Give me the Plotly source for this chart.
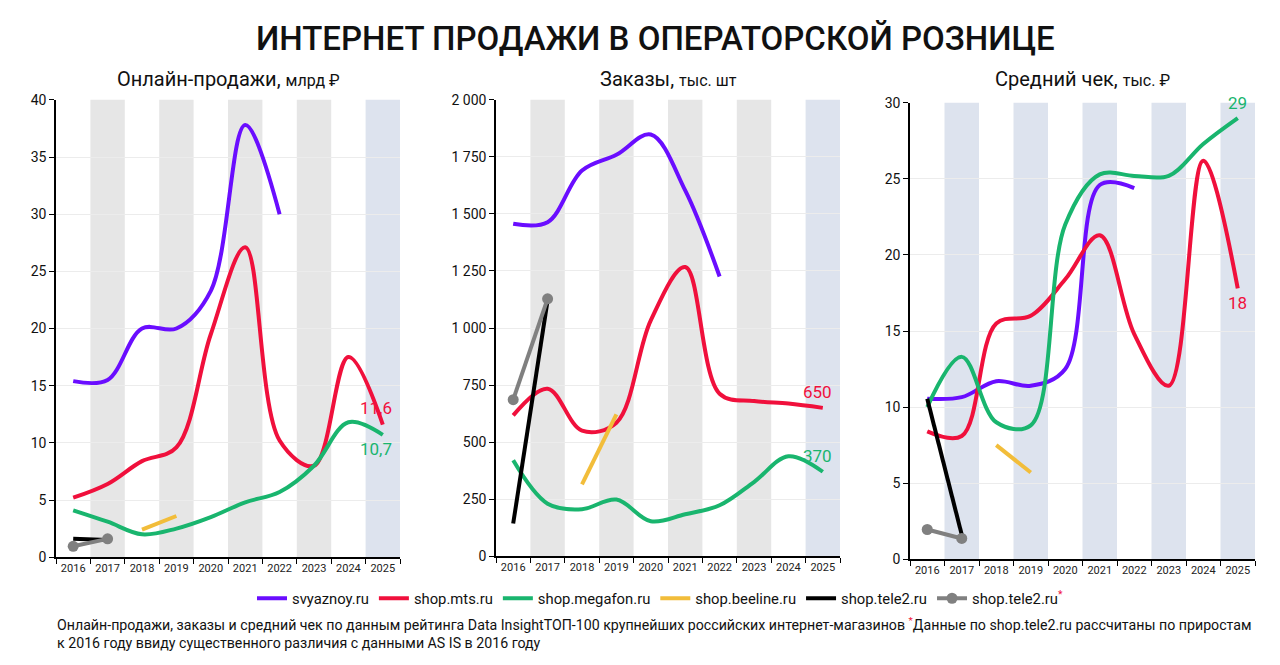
import plotly.graph_objects as go

years = ['2016', '2017', '2018', '2019', '2020', '2021', '2022', '2023', '2024', '2025']

# Онлайн-продажи, млрд ₽
svyaznoy_sales = [15.4, 15.5, 20.0, 20.0, 23.3, 37.8, 30.0]
mts_sales = [5.2, 6.4, 8.4, 9.6, 19.5, 27.1, 10.2, 8.0, 17.5, 11.6]
megafon_sales = [4.1, 3.1, 2.0, 2.5, 3.5, 4.8, 5.7, 8.0, 11.8, 10.7]
beeline_sales = [2.4, 3.6]
tele2_sales = [1.6, 1.5]
tele2_adj_sales = [0.95, 1.6]

# Заказы, тыс. шт
svyaznoy_orders = [1457, 1464, 1690, 1759, 1848, 1603, 1226]
mts_orders = [617, 734, 550, 585, 1034, 1267, 712, 680, 669, 650]
megafon_orders = [420, 230, 206, 248, 153, 184, 223, 325, 438, 370]
beeline_orders = [315, 622]
tele2_orders = [143, 1121]
tele2_adj_orders = [686, 1128]

# Средний чек, тыс. ₽
svyaznoy_check = [10.55, 10.65, 11.7, 11.4, 12.5, 24.6, 24.4]
mts_check = [8.4, 8.1, 15.5, 16.0, 18.4, 21.3, 14.8, 11.4, 26.2, 17.8]
megafon_check = [10.0, 13.3, 9.0, 8.8, 22.0, 25.3, 25.2, 25.2, 27.3, 29.0]
beeline_check = [7.5, 5.7]
tele2_check = [10.55, 1.6]
tele2_adj_check = [1.95, 1.36]

names = ['svyaznoy.ru', 'shop.mts.ru', 'shop.megafon.ru', 'shop.beeline.ru', 'shop.tele2.ru',
         "shop.tele2.ru<sup><span style='color:#f0103c'>*</span></sup>"]
colors = ['#6a0dff', '#f0103c', '#19b56e', '#f2bd3a', '#000000', '#808080']

FONT = 'Roboto'
W, H = 1280, 665


# screen pixel -> paper fraction (calibrated on the rendered page)
def px(x):
    return (x - 8) / W


def py(y):
    return 1 - (y - 15) / 650


panels = [
    dict(title="Онлайн-продажи, <span style='font-size:16px'>млрд ₽</span>",
         data=[svyaznoy_sales, mts_sales, megafon_sales, beeline_sales, tele2_sales, tele2_adj_sales],
         rng=[0, 40], dtick=5, dom_x=[px(56), px(400)], dom_y=[py(557), py(99)],
         band='#e6e6e6'),
    dict(title="Заказы, <span style='font-size:16px'>тыс. шт</span>",
         data=[svyaznoy_orders, mts_orders, megafon_orders, beeline_orders, tele2_orders, tele2_adj_orders],
         rng=[0, 2000], dtick=250, dom_x=[px(496), px(840)], dom_y=[py(556), py(99)],
         band='#e6e6e6'),
    dict(title="Средний чек, <span style='font-size:16px'>тыс. ₽</span>",
         data=[svyaznoy_check, mts_check, megafon_check, beeline_check, tele2_check, tele2_adj_check],
         rng=[0, 30], dtick=5, dom_x=[px(910), px(1255)], dom_y=[py(559), py(102)],
         band='#dde3ee'),
]

# x positions per series
xs = [years[:7], years, years, years[2:4], years[:2], years[:2]]

fig = go.Figure()
shapes = []
annotations = []

for p, panel in enumerate(panels):
    sfx = '' if p == 0 else str(p + 1)
    xa, ya = 'x' + sfx, 'y' + sfx
    for k, (vals, name, col) in enumerate(zip(panel['data'], names, colors)):
        is_gray = k == 5
        fig.add_trace(go.Scatter(
            x=xs[k], y=vals, name=name,
            mode='lines+markers' if is_gray else 'lines',
            line=dict(color=col, width=4, shape='spline' if len(vals) > 2 else 'linear', smoothing=1.0),
            marker=dict(size=11, color=col),
            xaxis=xa, yaxis=ya,
            legendgroup=str(k), showlegend=(p == 0),
            hoverinfo='skip',
        ))
    # bands
    for i in range(1, 10, 2):
        shapes.append(dict(
            type='rect', xref=xa, yref=ya + ' domain',
            x0=i - 0.5, x1=i + 0.5, y0=0, y1=1,
            fillcolor='#dde3ee' if i == 9 else panel['band'],
            line=dict(width=0), layer='below'))
    # subplot title
    annotations.append(dict(
        text=panel['title'], xref='paper', yref='paper',
        x=(panel['dom_x'][0] + panel['dom_x'][1]) / 2, y=py(78),
        showarrow=False, xanchor='center', yanchor='middle',
        font=dict(family=FONT, size=20, color='#111111')))
    fig.layout['xaxis' + sfx] = dict(
        domain=panel['dom_x'], anchor=ya, type='category', categoryorder='array',
        categoryarray=years, range=[-0.5, 9.5], showgrid=False,
        showline=True, linecolor='#000000', linewidth=1.5,
        ticks='outside', tickson='boundaries', ticklen=5, tickcolor='#000000',
        tickangle=0, tickfont=dict(family=FONT, size=11, color='#222222'), fixedrange=True)
    fig.layout['yaxis' + sfx] = dict(
        domain=panel['dom_y'], anchor=xa, range=panel['rng'], dtick=panel['dtick'],
        showgrid=True, gridcolor='#ececec', gridwidth=1, zeroline=False,
        showline=True, linecolor='#000000', linewidth=1.5,
        ticks='outside', ticklen=5, tickcolor='#000000', tickformat=',d',
        tickfont=dict(family=FONT, size=14, color='#111111'), fixedrange=True)

# end-value labels (x = index of 2025 on category axis)
last = len(years) - 1
end_labels = [
    ('x', 'y', mts_sales[-1], f"{mts_sales[-1]:.1f}".replace('.', ','), colors[1], -7, 17),
    ('x', 'y', megafon_sales[-1], f"{megafon_sales[-1]:.1f}".replace('.', ','), colors[2], -7, -14),
    ('x2', 'y2', mts_orders[-1], f"{mts_orders[-1]}", colors[1], -5, 16),
    ('x2', 'y2', megafon_orders[-1], f"{megafon_orders[-1]}", colors[2], -5, 16),
    ('x3', 'y3', megafon_check[-1], f"{megafon_check[-1]:.0f}", colors[2], 0, 15),
    ('x3', 'y3', mts_check[-1], f"{mts_check[-1]:.0f}", colors[1], 0, -15),
]
for xa, ya, v, t, col, dx, dy in end_labels:
    annotations.append(dict(
        text=t, xref=xa, yref=ya, x=last, y=v, xshift=dx, yshift=dy,
        showarrow=False, font=dict(family=FONT, size=17, color=col)))

# main title
annotations.append(dict(
    text='ИНТЕРНЕТ ПРОДАЖИ В ОПЕРАТОРСКОЙ РОЗНИЦЕ', xref='paper', yref='paper',
    x=px(655), y=py(38), showarrow=False, xanchor='center', yanchor='middle',
    font=dict(family=FONT, size=33, color='#111111', weight=500)))

# footnote
annotations.append(dict(
    text=("Онлайн-продажи, заказы и средний чек по данным рейтинга Data InsightТОП-100 крупнейших "
          "российских интернет-магазинов <sup><span style='color:#f0103c'>*</span></sup>Данные по "
          "shop.tele2.ru рассчитаны по приростам<br>к 2016 году ввиду существенного различия с данными "
          "AS IS в 2016 году"),
    xref='paper', yref='paper', x=px(55), y=py(613), xanchor='left', yanchor='top',
    align='left', showarrow=False, font=dict(family=FONT, size=14.2, color='#111111')))

fig.update_layout(
    width=W, height=H,
    margin=dict(l=0, r=0, t=0, b=0),
    paper_bgcolor='white', plot_bgcolor='white',
    separators=', ',
    shapes=shapes, annotations=annotations,
    showlegend=True,
    legend=dict(orientation='h', x=px(660), xanchor='center', y=py(582), yanchor='top',
                font=dict(family=FONT, size=14.8, color='#111111'),
                itemwidth=30, tracegroupgap=0, bgcolor='rgba(0,0,0,0)'),
)

fig.write_html("out.html")
